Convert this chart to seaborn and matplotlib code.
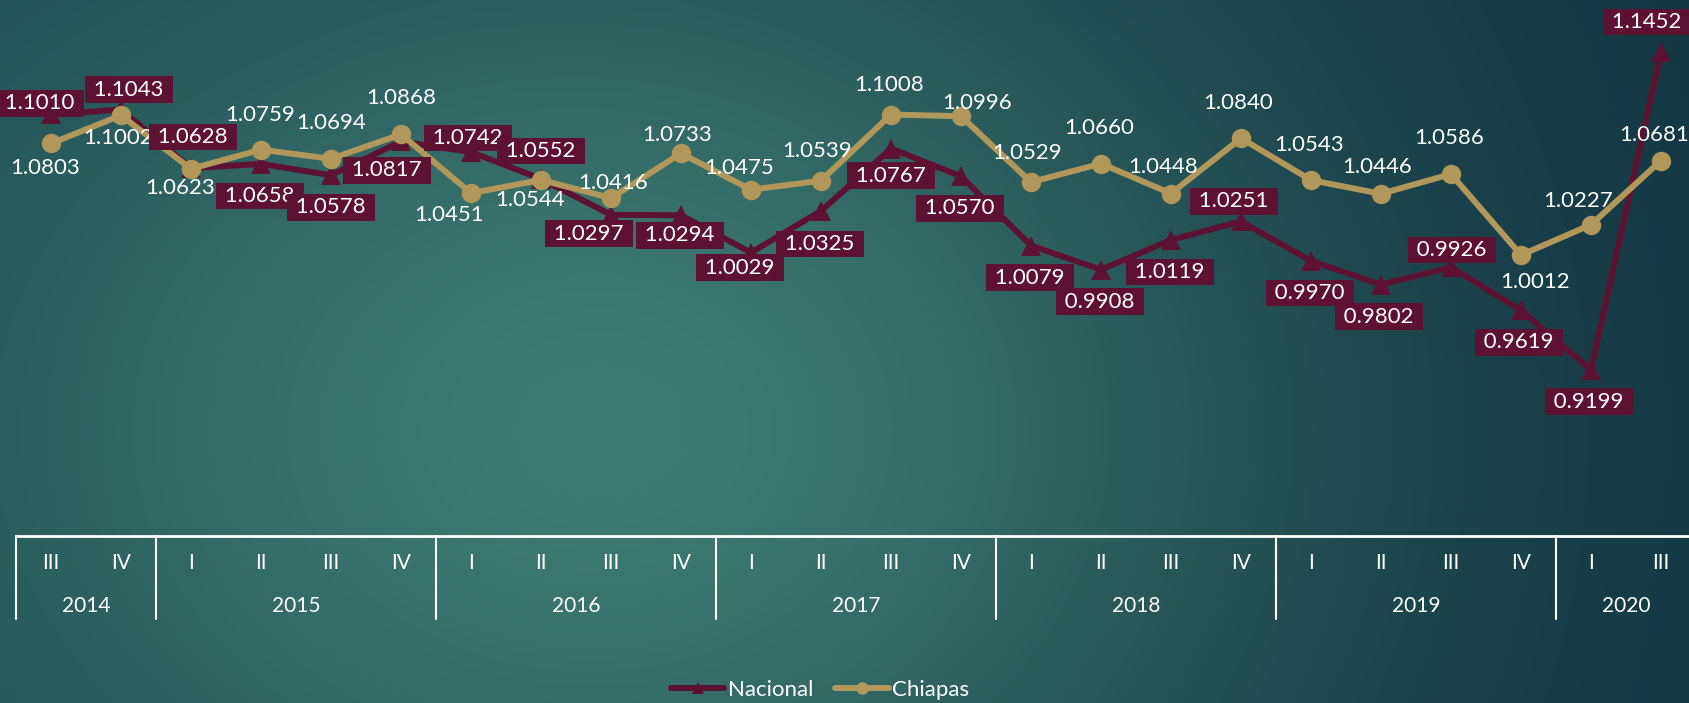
#%% Bibliotecas
import numpy as np
import pandas as pd
import seaborn as sns
import matplotlib.pyplot as plt
from matplotlib.colors import to_rgb
from matplotlib.lines import Line2D

#%% Datos
periodos = ['III', 'IV',
            'I', 'II', 'III', 'IV',
            'I', 'II', 'III', 'IV',
            'I', 'II', 'III', 'IV',
            'I', 'II', 'III', 'IV',
            'I', 'II', 'III', 'IV',
            'I', 'III']
anios = ['2014', '2015', '2016', '2017', '2018', '2019', '2020']
trimestres_por_anio = [2, 4, 4, 4, 4, 4, 2]

nacional = [1.1010, 1.1043, 1.0628, 1.0658, 1.0578, 1.0817, 1.0742, 1.0552,
            1.0297, 1.0294, 1.0029, 1.0325, 1.0767, 1.0570, 1.0079, 0.9908,
            1.0119, 1.0251, 0.9970, 0.9802, 0.9926, 0.9619, 0.9199, 1.1452]
chiapas = [1.0803, 1.1002, 1.0623, 1.0759, 1.0694, 1.0868, 1.0451, 1.0544,
           1.0416, 1.0733, 1.0475, 1.0539, 1.1008, 1.0996, 1.0529, 1.0660,
           1.0448, 1.0840, 1.0543, 1.0446, 1.0586, 1.0012, 1.0227, 1.0681]

# desplazamiento de las etiquetas (pixeles, x derecha / y abajo)
off_nac = [(-11, -11), (8, -20), (2, -31), (-1, 32), (0, 32), (-14, 29),
           (-3, -14), (0, -28), (-22, 19), (-1, 20), (-11, 15), (-1, 33),
           (0, 27), (-1, 32), (-1, 32), (-1, 32), (-1, 32), (-7, -20),
           (-1, 32), (-2, 32), (1, -17), (-2, 32), (-2, 32), (-14, -30)]
off_chis = [(-6, 25), (-3, 23), (-11, 19), (-1, -35), (0, -36), (0, -36),
            (-22, 22), (-11, 20), (2, -15), (-4, -18), (-12, -22), (-4, -30),
            (-2, -30), (16, -13), (-4, -29), (-2, -36), (-8, -27), (-3, -35),
            (-2, -35), (-4, -27), (-2, -36), (14, 27), (-13, -24), (-7, -26)]

GUINDA = '#5e1232'
DORADO = '#b1975a'

#%% Figura y fondo
sns.set_style('white')
plt.rcParams['font.family'] = ['Lato', 'DejaVu Sans']

W, H = 1689, 703
fig = plt.figure(figsize=(W / 100, H / 100), dpi=100)

yy, xx = np.mgrid[0:H, 0:W]
izq, centro, der = np.array(to_rgb('#1c4953')), np.array(to_rgb('#3e7b70')), np.array(to_rgb('#133543'))
t = xx / W
borde = izq[None, None, :] * (1 - t[..., None]) + der[None, None, :] * t[..., None]
f = np.exp(-((xx - 600) / 650.0) ** 2 - ((yy - 430) / 520.0) ** 2)
img = borde * (1 - f[..., None]) + centro[None, None, :] * f[..., None]
bg = fig.add_axes([0, 0, 1, 1])
bg.imshow(img, aspect='auto', extent=[0, 1, 0, 1], zorder=0)
bg.axis('off')

ax = fig.add_axes([16 / W, 167 / H, 1680 / W, 536 / H])
ax.patch.set_alpha(0)

#%% Lineas
n = len(periodos)
df = pd.DataFrame({
    'pos': list(range(n)) * 2,
    'valor': nacional + chiapas,
    'serie': ['Nacional'] * n + ['Chiapas'] * n,
})
sns.lineplot(data=df, x='pos', y='valor', hue='serie', style='serie',
             markers={'Nacional': '^', 'Chiapas': 'o'}, dashes=False,
             palette={'Nacional': GUINDA, 'Chiapas': DORADO},
             linewidth=4.3, markersize=14, markeredgewidth=0,
             sort=False, legend=False, ax=ax)

ax.set_xlim(-0.5, n - 0.5)
ax.set_ylim(0.802, 1.182)
ax.set_xticks([])
ax.set_yticks([])
ax.set_xlabel('')
ax.set_ylabel('')
for s in ['top', 'right', 'left']:
    ax.spines[s].set_visible(False)
ax.spines['bottom'].set_color('white')
ax.spines['bottom'].set_linewidth(2)

#%% Etiquetas de datos
for i, v in enumerate(chiapas):
    dx, dy = off_chis[i]
    ax.annotate(f'{v:.4f}', xy=(i, v), xytext=(dx, -dy), textcoords='offset pixels',
                ha='center', va='center', color='white', fontsize=16, zorder=5)
for i, v in enumerate(nacional):
    dx, dy = off_nac[i]
    ax.annotate(f' {v:.4f} ', xy=(i, v), xytext=(dx, -dy), textcoords='offset pixels',
                ha='center', va='center', color='white', fontsize=16, zorder=6,
                bbox=dict(boxstyle='square,pad=0.15', fc=GUINDA, ec='none'))

#%% Eje de categorias
tr = ax.get_xaxis_transform()
for i, p in enumerate(periodos):
    ax.text(i, -0.0504, p, transform=tr, ha='center', va='center',
            color='white', fontsize=15)
inicio = -0.5
ax.plot([inicio, inicio], [0, -0.155], transform=tr, color='white', lw=1.5, clip_on=False)
for a, k in zip(anios, trimestres_por_anio):
    ax.text(inicio + k / 2, -0.1306, a, transform=tr, ha='center', va='center',
            color='white', fontsize=15)
    inicio += k
    ax.plot([inicio, inicio], [0, -0.155], transform=tr, color='white', lw=1.5, clip_on=False)

#%% Leyenda
handles = [Line2D([], [], color=GUINDA, lw=4.3, marker='^', markersize=9, markeredgewidth=0),
           Line2D([], [], color=DORADO, lw=4.3, marker='o', markersize=9, markeredgewidth=0)]
fig.legend(handles, ['Nacional', 'Chiapas'], loc='center', bbox_to_anchor=(820 / W, 13 / H),
           ncol=2, frameon=False, fontsize=16, labelcolor='white',
           handlelength=2.4, handletextpad=0.15, columnspacing=1.0)

fig.savefig('out.png', dpi=100)
